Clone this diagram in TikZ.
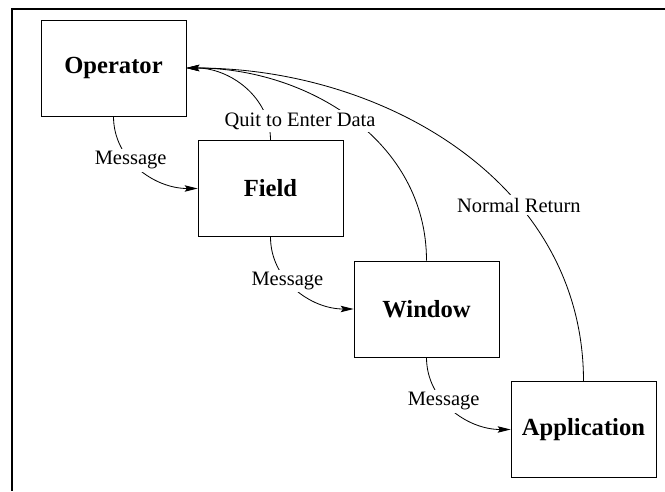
\documentclass[tikz,border=0pt]{standalone}
\usepackage{fontspec}
\setmainfont{Liberation Serif}
\usetikzlibrary{arrows.meta}

\begin{document}
\begin{tikzpicture}[x=0.03cm,y=0.03cm]
  \tikzset{
    objbox/.style={draw,line width=0.8pt,minimum width=4.35cm,minimum height=2.88cm,
      inner sep=0pt,font=\fontsize{21}{25}\selectfont\bfseries},
    msgstep/.style={-{Stealth[length=11pt,width=5.5pt,inset=2pt]},line width=0.7pt},
    steplabel/.style={fill=white,inner sep=2pt,font=\fontsize{17.5}{20}\selectfont},
  }
  \useasboundingbox (0,0) rectangle (665,491);
  \draw[line width=2pt] (665,482) -- (12,482) -- (12,0);
  \node[objbox] (op)     at (113.5,423)   {Operator};
  \node[objbox] (field)  at (270.5,302.5) {Field};
  \node[objbox] (window) at (426.5,182)   {Window};
  \node[objbox] (app)    at (583.5,61.5)  {Application};
  % messages down the chain
  \draw[msgstep] (op)     edge[out=-90,in=180] node[steplabel,pos=.4] {Message} (field);
  \draw[msgstep] (field)  edge[out=-90,in=180] node[steplabel,pos=.4] {Message} (window);
  \draw[msgstep] (window) edge[out=-90,in=180] node[steplabel,pos=.4] {Message} (app);
  % returns to the operator
  \draw[msgstep] (field)  edge[out=90,in=0] (op);
  \draw[msgstep] (window) edge[out=90,in=0] (op);
  \draw[msgstep] (app)    edge[out=90,in=0] node[steplabel,pos=.35] {Normal Return} (op);
  \node[steplabel] (quit) at (300,370) {Quit to Enter Data};
\end{tikzpicture}
\end{document}
